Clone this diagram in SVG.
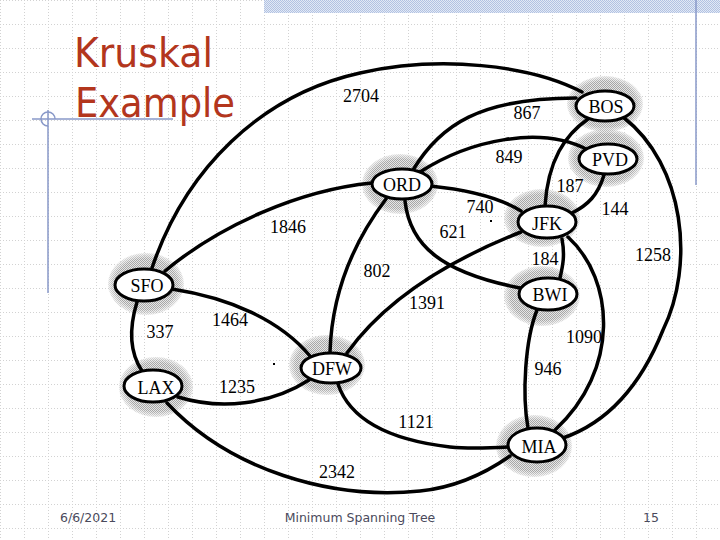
<svg xmlns="http://www.w3.org/2000/svg" width="720" height="540" viewBox="0 0 720 540">
  <defs>
    <style>
      .edge{fill:none;stroke:#000;stroke-width:3.5;stroke-linecap:round}
      .w{font-family:"Liberation Serif","Times New Roman",serif;font-size:18px;fill:#000;text-anchor:middle}
      .node{fill:#fff;stroke:#000;stroke-width:3}
      .lbl{font-family:"Liberation Serif","Times New Roman",serif;font-size:18px;fill:#000;text-anchor:middle}
      .halo{fill:url(#stip);mask:url(#fade)}
      .foot{font-family:"DejaVu Sans","Verdana",sans-serif;font-size:12.5px;fill:#4a4a5c}
      .deco{stroke:#8898c8;stroke-width:1.5;fill:none}
    </style>
    <pattern id="grid" width="24" height="24" patternUnits="userSpaceOnUse">
      <path d="M0.5,0 V24 M0,0.5 H24" stroke="#d2d2d2" stroke-width="1" stroke-dasharray="1 2" fill="none"/>
    </pattern>
    <pattern id="stip" width="2" height="2" patternUnits="userSpaceOnUse">
      <rect width="2" height="2" fill="#e6e6e6"/>
      <rect x="0" y="0" width="1" height="1" fill="#a6a6a6"/>
      <rect x="1" y="1" width="1" height="1" fill="#a6a6a6"/>
    </pattern>
    <pattern id="blue" width="2" height="2" patternUnits="userSpaceOnUse">
      <rect width="2" height="2" fill="#e2e9f5"/>
      <rect x="0" y="0" width="1" height="1" fill="#b2c2e2"/>
      <rect x="1" y="1" width="1" height="1" fill="#b2c2e2"/>
    </pattern>
    <radialGradient id="rg" cx="0.5" cy="0.5" r="0.5">
      <stop offset="0.82" stop-color="#fff"/>
      <stop offset="1" stop-color="#555"/>
    </radialGradient>
    <mask id="fade" maskContentUnits="objectBoundingBox">
      <rect width="1" height="1" fill="url(#rg)"/>
    </mask>
  </defs>

  <!-- background -->
  <rect width="720" height="540" fill="#fff"/>
  <rect width="720" height="540" fill="url(#grid)"/>
  <rect x="264" y="0" width="456" height="13" fill="url(#blue)"/>
  <line class="deco" x1="696" y1="0" x2="696" y2="185"/>
  <line class="deco" x1="48" y1="110" x2="48" y2="293"/>
  <line class="deco" x1="32" y1="119" x2="173" y2="119"/>
  <path class="deco" d="M48,126 A7,7 0 1 1 55,119"/>

  <!-- title -->
  <g id="title" fill="#b3361d" font-family="DejaVu Sans, Verdana, sans-serif" font-size="40">
    <text x="74" y="67" textLength="139" lengthAdjust="spacingAndGlyphs">Kruskal</text>
    <text x="75" y="117" textLength="160" lengthAdjust="spacingAndGlyphs">Example</text>
  </g>

  <!-- halos -->
  <g id="halos">
    <ellipse class="halo" cx="605" cy="104" rx="38" ry="28"/>
    <ellipse class="halo" cx="606" cy="158" rx="38" ry="29"/>
    <ellipse class="halo" cx="400" cy="184" rx="38" ry="30"/>
    <ellipse class="halo" cx="542" cy="218" rx="38" ry="29"/>
    <ellipse class="halo" cx="542" cy="296" rx="38" ry="30"/>
    <ellipse class="halo" cx="146" cy="284" rx="38" ry="31"/>
    <ellipse class="halo" cx="156" cy="387" rx="37" ry="30"/>
    <ellipse class="halo" cx="327" cy="365" rx="38" ry="30"/>
    <ellipse class="halo" cx="534" cy="446" rx="38" ry="31"/>
  </g>

  <!-- connectors -->
  <g id="connectors">
    <path class="edge" d="M152,268 C185,170 260,95 360,73 C440,55 530,65 582,92"/>
    <path class="edge" d="M413,170 C440,125 480,98 576,98"/>
    <path class="edge" d="M420,172 C470,140 540,125 588,150"/>
    <path class="edge" d="M588,119 C565,135 548,160 545,206"/>
    <path class="edge" d="M604,175 C598,195 588,205 572,213"/>
    <path class="edge" d="M623,117 C685,165 695,265 663,330 C645,375 615,420 563,438"/>
    <path class="edge" d="M430,186 C470,190 500,198 521,211"/>
    <path class="edge" d="M405,201 C410,245 440,272 520,288"/>
    <path class="edge" d="M386,199 C355,240 332,290 330,352"/>
    <path class="edge" d="M372,183 C300,190 220,225 165,271"/>
    <path class="edge" d="M172,289 C230,298 280,320 310,356"/>
    <path class="edge" d="M137,302 C130,325 128,350 142,371"/>
    <path class="edge" d="M178,397 C220,410 270,405 309,380"/>
    <path class="edge" d="M167,403 C230,470 330,500 420,491 C460,487 490,470 510,456"/>
    <path class="edge" d="M338,384 C350,420 390,440 450,447 C470,449 490,448 508,447"/>
    <path class="edge" d="M347,353 C385,300 450,260 521,232"/>
    <path class="edge" d="M562,239 C565,255 563,265 560,278"/>
    <path class="edge" d="M568,237 C615,280 620,370 555,430"/>
    <path class="edge" d="M537,310 C525,340 522,395 528,428"/>
    <rect x="490" y="220" width="2" height="2" fill="#000"/>
    <rect x="273" y="363" width="2" height="2" fill="#000"/>
  </g>

  <!-- edge weights -->
  <g id="weights">
    <text class="w" x="361" y="102">2704</text>
    <text class="w" x="527" y="119">867</text>
    <text class="w" x="509" y="163">849</text>
    <text class="w" x="570" y="192">187</text>
    <text class="w" x="615" y="215">144</text>
    <text class="w" x="480" y="213">740</text>
    <text class="w" x="453" y="238">621</text>
    <text class="w" x="653" y="261">1258</text>
    <text class="w" x="545" y="265">184</text>
    <text class="w" x="427" y="309">1391</text>
    <text class="w" x="288" y="233">1846</text>
    <text class="w" x="377" y="277">802</text>
    <text class="w" x="230" y="326">1464</text>
    <text class="w" x="160" y="338">337</text>
    <text class="w" x="237" y="393">1235</text>
    <text class="w" x="337" y="478">2342</text>
    <text class="w" x="416" y="428">1121</text>
    <text class="w" x="548" y="375">946</text>
    <text class="w" x="584" y="343">1090</text>
  </g>

  <!-- nodes -->
  <g id="BOS"><ellipse class="node" cx="605" cy="106" rx="29" ry="15"/><text class="lbl" x="606" y="113">BOS</text></g>
  <g id="PVD"><ellipse class="node" cx="608" cy="159" rx="29" ry="15"/><text class="lbl" x="610" y="166">PVD</text></g>
  <g id="ORD"><ellipse class="node" cx="402" cy="184" rx="30" ry="15"/><text class="lbl" x="402" y="191">ORD</text></g>
  <g id="JFK"><ellipse class="node" cx="547" cy="222" rx="29" ry="16"/><text class="lbl" x="547" y="230">JFK</text></g>
  <g id="BWI"><ellipse class="node" cx="548" cy="294" rx="29" ry="16"/><text class="lbl" x="550" y="301">BWI</text></g>
  <g id="SFO"><ellipse class="node" cx="144" cy="285" rx="29" ry="16"/><text class="lbl" x="147" y="292">SFO</text></g>
  <g id="LAX"><ellipse class="node" cx="153" cy="386" rx="29" ry="16"/><text class="lbl" x="156" y="394">LAX</text></g>
  <g id="DFW"><ellipse class="node" cx="331" cy="368" rx="30" ry="15"/><text class="lbl" x="332" y="375">DFW</text></g>
  <g id="MIA"><ellipse class="node" cx="537" cy="445" rx="29" ry="17"/><text class="lbl" x="539" y="453">MIA</text></g>

  <!-- footer -->
  <g id="footer">
    <text class="foot" x="60" y="522">6/6/2021</text>
    <text class="foot" x="360" y="522" text-anchor="middle">Minimum Spanning Tree</text>
    <text class="foot" x="651" y="522" text-anchor="middle">15</text>
  </g>
</svg>
